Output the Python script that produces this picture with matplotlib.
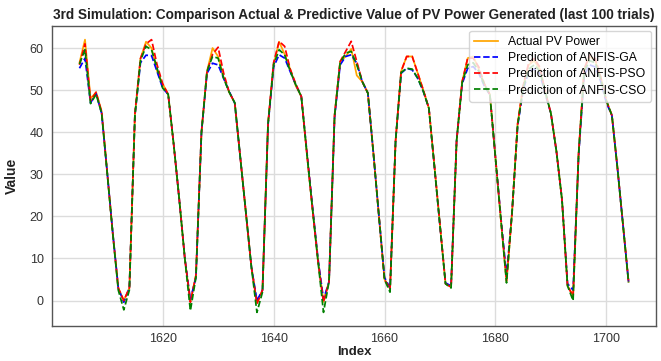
import matplotlib
matplotlib.use("Agg")
import matplotlib.pyplot as plt
import numpy as np

start_index = 1605
actual = [56.5, 62, 48, 49.5, 45, 30.5, 16, 3, 0, 3,
          44, 57.5, 61.5, 60, 54.5, 51.5, 49, 37, 24, 10,
          -0.3, 6, 40, 54.5, 60, 58, 53, 49.5, 47, 34,
          21, 8, -0.5, 2.5, 42, 56, 61.5, 58.5, 55, 51,
          48.5, 35, 22, 9.5, -0.3, 4.5, 44, 56.8, 58, 59.8,
          53.5, 52, 49.3, 35, 20, 5, 2.8, 38, 54.5, 58,
          58, 54, 50, 45.7, 32, 18, 4, 3.2, 38, 52,
          57.6, 58, 55, 51.5, 49, 34, 19, 4.5, 21, 42,
          51, 56, 57, 55, 49.5, 44.5, 35.5, 24, 3.5, 1.2,
          35, 55, 58, 57, 53, 47.5, 44, 31.5, 18, 4.5]
pred_ga = [55.2, 57.6, 47, 49.2, 44.5, 30.5, 16.2, 3, -0.4, 3,
           44, 56.5, 58.3, 58.2, 54.4, 50.5, 49, 37, 24, 10,
           0.2, 5.5, 40, 54, 56.4, 56, 52.8, 49.7, 46.9, 34,
           21, 8, 0, 2.5, 41.7, 55.5, 58.4, 57.6, 54.4, 51.3,
           48.5, 35.4, 22.6, 10, 0.3, 4.5, 43.5, 56, 58, 58.4,
           56.4, 52, 49.3, 35, 20, 5.5, 3, 38, 54, 55.2,
           54.8, 52.8, 49.7, 45.7, 31.8, 17.8, 4.2, 3.5, 38, 51.5,
           55.2, 55.6, 54, 51, 48.9, 34, 19.5, 6, 21, 41.5,
           50, 54.5, 55, 54, 49, 44.5, 35.4, 24, 4, 2.5,
           34.5, 53.5, 56, 55.5, 52, 47, 44, 31.5, 18, 4.5]
pred_pso = [56, 61, 47.5, 49.5, 44.8, 30.5, 16, 3, 0, 3,
            44.5, 57.5, 61, 62, 56, 51.5, 49, 37, 24, 10,
            -0.4, 6, 40, 54.5, 58.5, 60.2, 54, 49.5, 47, 34,
            21, 8, -0.8, 2.5, 42, 56.5, 61.6, 60.4, 55, 51.5,
            48.5, 35, 22, 9.5, -0.4, 4.5, 44, 56.8, 59.2, 61.6,
            56.8, 52, 49.3, 35, 20, 5, 2.8, 38, 54.5, 58,
            58, 54, 50, 45.7, 32, 18, 4, 3.2, 38, 52,
            57.6, 57.6, 55.5, 51.5, 49, 34, 19, 4.8, 21, 42,
            51, 56.5, 57.5, 55.5, 49.5, 44.5, 35.5, 24, 3.5, 1,
            35, 55, 58.5, 57.5, 53, 47.5, 44, 31.5, 18, 4.5]
pred_cso = [56.2, 59.6, 46.8, 49, 44.5, 30.3, 16, 2.5, -2.2, 2.5,
            44, 57, 60.4, 59.6, 55.2, 50.5, 49, 37, 24, 10,
            -2.4, 5.5, 40, 54.5, 58, 57.6, 52.8, 49.5, 47, 34,
            21, 8, -2.8, 2, 42, 56, 59.6, 58.4, 54.5, 51.3,
            48.5, 35, 22, 9.5, -2.8, 4.5, 44, 56.5, 58.8, 59.2,
            56, 52, 49.3, 35, 20, 5, 2, 38, 54.2, 55.2,
            55, 52.8, 49.7, 45.7, 31.8, 17.8, 4, 3, 38, 51.8,
            56, 56.5, 54.5, 51.3, 48.9, 34, 19, 4.2, 21, 41.7,
            50.5, 55, 56, 54.5, 49.5, 44.5, 35.4, 24, 3.5, 0,
            35, 54.5, 57, 56.5, 52.5, 47.5, 44, 31.5, 18, 4.3]
labels = ["Actual PV Power", "Prediction of ANFIS-GA",
          "Prediction of ANFIS-PSO", "Prediction of ANFIS-CSO"]
title = "3rd Simulation: Comparison Actual & Predictive Value of PV Power Generated (last 100 trials)"

idx = np.arange(start_index, start_index + len(actual))

plt.rcParams['font.family'] = ['Liberation Sans', 'DejaVu Sans']

fig = plt.figure(figsize=(6.61, 3.61), dpi=100)
ax = fig.add_axes([52/661, 1 - 326/361, (656 - 52)/661, (326 - 26)/361])

ax.plot(idx, actual, color='orange', lw=1.25, label=labels[0])
ax.plot(idx, pred_ga, color='blue', lw=1.25, ls='--', label=labels[1])
ax.plot(idx, pred_pso, color='red', lw=1.25, ls='--', label=labels[2])
ax.plot(idx, pred_cso, color='green', lw=1.25, ls='--', label=labels[3])

ax.grid(True, color='#dcdcdc', lw=1.0)
ax.set_axisbelow(True)
for s in ax.spines.values():
    s.set_color('#555555')
    s.set_linewidth(1.0)
ax.tick_params(axis='y', length=0, labelsize=9, labelcolor='#333333', pad=6)
ax.tick_params(axis='x', length=0, labelsize=9, labelcolor='#333333', pad=5)
ax.set_xticks([1620, 1640, 1660, 1680, 1700])
ax.set_yticks([0, 10, 20, 30, 40, 50, 60])
ax.set_xlabel("Index", fontsize=9.5, fontweight='bold', color='#222222', labelpad=1)
ax.set_ylabel("Value", fontsize=10, fontweight='bold', color='#222222', labelpad=8)
ax.set_title(title, fontsize=9.8, fontweight='bold', color='#222222', pad=5)
leg = ax.legend(loc='upper right', fontsize=8.8, framealpha=0.8, edgecolor='#cccccc',
                borderaxespad=0.4, handlelength=2.0, labelspacing=0.35)

fig.savefig("out.png", dpi=100)
